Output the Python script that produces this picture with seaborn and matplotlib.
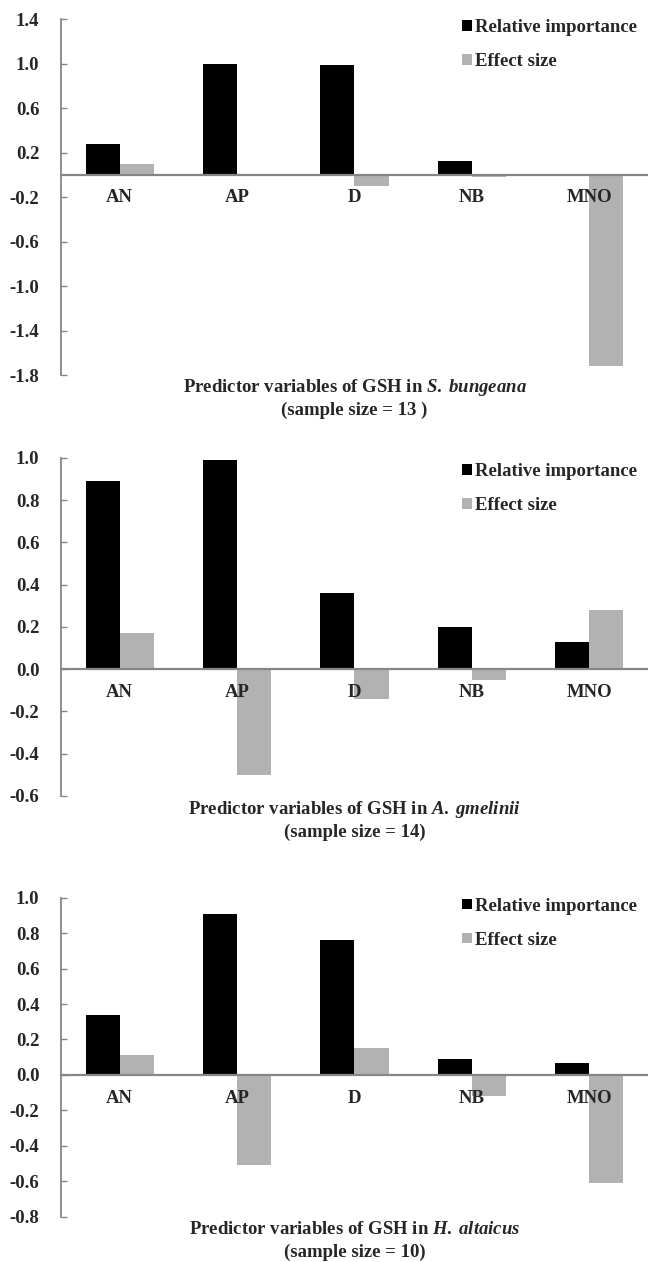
import numpy as np
import pandas as pd
import matplotlib
matplotlib.use("Agg")
import matplotlib.pyplot as plt
import seaborn as sns

# ---- data ------------------------------------------------------------------ #
predictors = ["AN", "AP", "D", "NB", "MNO"]
series_names = ["Relative importance", "Effect size"]

# S. bungeana
bungeana_ri = [0.28, 1.00, 0.99, 0.12, 0.01]
bungeana_es = [0.10, -0.005, -0.10, -0.02, -1.72]
# A. gmelinii
gmelinii_ri = [0.89, 0.99, 0.36, 0.20, 0.13]
gmelinii_es = [0.17, -0.50, -0.14, -0.05, 0.28]
# H. altaicus
altaicus_ri = [0.34, 0.91, 0.76, 0.09, 0.07]
altaicus_es = [0.11, -0.51, 0.15, -0.12, -0.61]

species = ["S.\\;bungeana", "A.\\;gmelinii", "H.\\;altaicus"]
sample_sizes = ["13 ", "14", "10"]

bungeana_ticks = [-1.8, -1.4, -1.0, -0.6, -0.2, 0.2, 0.6, 1.0, 1.4]
gmelinii_ticks = [-0.6, -0.4, -0.2, 0.0, 0.2, 0.4, 0.6, 0.8, 1.0]
altaicus_ticks = [-0.8, -0.6, -0.4, -0.2, 0.0, 0.2, 0.4, 0.6, 0.8, 1.0]

# ---- style ----------------------------------------------------------------- #
sns.set_style("ticks")
plt.rcParams["font.family"] = ["Liberation Serif", "DejaVu Serif"]
plt.rcParams["font.weight"] = "bold"
plt.rcParams["mathtext.fontset"] = "custom"
plt.rcParams["mathtext.rm"] = "Liberation Serif:bold"
plt.rcParams["mathtext.it"] = "Liberation Serif:italic:bold"
plt.rcParams["mathtext.bf"] = "Liberation Serif:bold"

FS = 13.5
GREY_AXIS = "#868686"
palette = {"Relative importance": "#000000", "Effect size": "#b2b2b2"}

fig = plt.figure(figsize=(6.48, 12.62), dpi=100)

# left, bottom, width, height (figure fraction) for the three panels
rects = [
    [0.0941, 0.70285, 0.9059, 0.28209],
    [0.0941, 0.36926, 0.9059, 0.26783],
    [0.0941, 0.03590, 0.9059, 0.25277],
]
panels = [
    (bungeana_ri, bungeana_es, bungeana_ticks),
    (gmelinii_ri, gmelinii_es, gmelinii_ticks),
    (altaicus_ri, altaicus_es, altaicus_ticks),
]
legend_y = [1.0, 0.985, 1.0]
title_y = [(388, 410), (809, 832), (1230, 1252)]

for i, (ri, es, ticks) in enumerate(panels):
    df = pd.DataFrame({
        "predictor": predictors * 2,
        "series": [series_names[0]] * 5 + [series_names[1]] * 5,
        "value": ri + es,
    })
    ax = fig.add_axes(rects[i])
    sns.barplot(data=df, x="predictor", y="value", hue="series",
                order=predictors, hue_order=series_names, palette=palette,
                saturation=1, width=0.58, gap=0, linewidth=0, ax=ax)

    # spines first: moving a spine resets the tick labels
    for s in ["top", "right"]:
        ax.spines[s].set_visible(False)
    ax.spines["left"].set_color(GREY_AXIS)
    ax.spines["left"].set_linewidth(1.3)
    ax.spines["bottom"].set_position(("data", 0))
    ax.spines["bottom"].set_color(GREY_AXIS)
    ax.spines["bottom"].set_linewidth(1.6)
    ax.spines["bottom"].set_zorder(3)
    ax.set_axisbelow(False)

    ax.set_xlim(-0.5, 4.5)
    ax.set_ylim(ticks[0], ticks[-1])
    ax.set_yticks(ticks)
    ax.set_yticklabels([f"{t + 0.0:.1f}" for t in ticks], fontsize=FS, fontweight="bold")
    ax.set_xticks(range(len(predictors)))
    ax.set_xticklabels(predictors, fontsize=FS, fontweight="bold")
    ax.set_xlabel("")
    ax.set_ylabel("")
    ax.tick_params(axis="y", direction="in", length=4.5, width=1.0,
                   color=GREY_AXIS, pad=15.5)
    ax.tick_params(axis="x", length=0, pad=10.5)
    ax.xaxis.set_zorder(4)

    handles, labels = ax.get_legend_handles_labels()
    ax.legend(handles, labels, loc="upper left", bbox_to_anchor=(0.6826, legend_y[i]),
              frameon=False, borderaxespad=0, borderpad=0,
              handlelength=0.55, handleheight=0.5, handletextpad=0.15,
              labelspacing=0.9, prop={"size": FS, "weight": "bold"})

    y1, y2 = title_y[i]
    fig.text(0.0941 + 0.9059 / 2, 1 - y1 / 1262,
             r"Predictor variables of GSH in $\mathit{" + species[i] + "}$",
             ha="center", va="center", fontsize=FS, fontweight="bold")
    fig.text(0.0941 + 0.9059 / 2, 1 - y2 / 1262,
             f"(sample size = {sample_sizes[i]})",
             ha="center", va="center", fontsize=FS, fontweight="bold")

fig.savefig("out.png", dpi=100)
